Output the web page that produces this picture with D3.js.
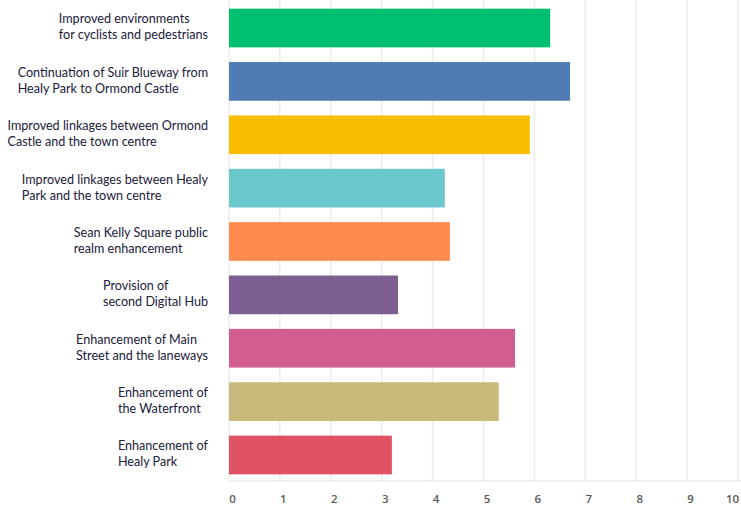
<!DOCTYPE html>
<html><head><meta charset="utf-8">
<script src="https://cdn.jsdelivr.net/npm/d3@7"></script>
<style>body{margin:0;background:#fff}svg{display:block}</style>
</head><body><svg id="c" width="741" height="510"></svg>
<script>
const categories = [
  ["Improved environments", "for cyclists and pedestrians"],
  ["Continuation of Suir Blueway from", "Healy Park to Ormond Castle"],
  ["Improved linkages between Ormond", "Castle and the town centre"],
  ["Improved linkages between Healy", "Park and the town centre"],
  ["Sean Kelly Square public", "realm enhancement"],
  ["Provision of", "second Digital Hub"],
  ["Enhancement of Main", "Street and the laneways"],
  ["Enhancement of", "the Waterfront"],
  ["Enhancement of", "Healy Park"]
];
const values = [6.31, 6.70, 5.91, 4.24, 4.34, 3.32, 5.62, 5.30, 3.20];
const colors = ["#00BF6F", "#507CB6", "#F9BE00", "#6BC8CD", "#FF8B4F", "#7D5E90", "#D25F90", "#C9B97A", "#DF5264"];
const tickValues = [0,1,2,3,4,5,6,7,8,9,10];

const svg = d3.select("#c");
const x = d3.scaleLinear().domain([0, 10]).range([229, 738]);
const y = d3.scaleBand().domain(d3.range(categories.length)).range([2, 481]).paddingInner(0.275).paddingOuter(0.125);

// grid lines
svg.append("g").selectAll("line").data(tickValues.slice(1)).join("line")
  .attr("x1", d => x(d)).attr("x2", d => x(d)).attr("y1", 0).attr("y2", 481)
  .attr("stroke", "#ececec").attr("stroke-width", 1.5);

// baseline
svg.append("line").attr("x1", x(0)).attr("x2", x(0)).attr("y1", 0).attr("y2", 481)
  .attr("stroke", "#e2e2e2").attr("stroke-width", 1);
svg.append("line").attr("x1", x(0)).attr("x2", 741).attr("y1", 481).attr("y2", 481)
  .attr("stroke", "#e2e2e2").attr("stroke-width", 1);

// bars
svg.append("g").selectAll("rect").data(values).join("rect")
  .attr("x", x(0)).attr("y", (d, i) => y(i))
  .attr("width", d => x(d) - x(0)).attr("height", y.bandwidth())
  .attr("fill", (d, i) => colors[i]);

// axis tick labels
const axis = d3.axisBottom(x).tickValues(tickValues).tickSize(0).tickPadding(0).tickFormat(d3.format("d"));
const ag = svg.append("g").attr("transform", "translate(3,495)").call(axis);
ag.select(".domain").remove();
ag.selectAll("text").attr("font-family", "'Open Sans', sans-serif").attr("font-size", 11.5)
  .attr("font-weight", 600).attr("fill", "#5a5a5a");
ag.selectAll(".tick").filter(d => d === 10).select("text").attr("dx", -9);

// category labels
const lg = svg.append("g").attr("font-family", "Lato, 'Noto Sans', sans-serif").attr("font-size", 12.6).attr("fill", "#20203a");
categories.forEach((lines, i) => {
  const g = lg.append("g");
  const cy = y(i) + y.bandwidth() / 2 - 1;
  const texts = lines.map((t, k) => g.append("text").text(t)
    .attr("y", cy + (k - (lines.length - 1) / 2) * 16).attr("dy", "0.35em"));
  const w = d3.max(texts, t => t.node().getComputedTextLength());
  texts.forEach(t => t.attr("x", 208 - w));
});
</script></body></html>
